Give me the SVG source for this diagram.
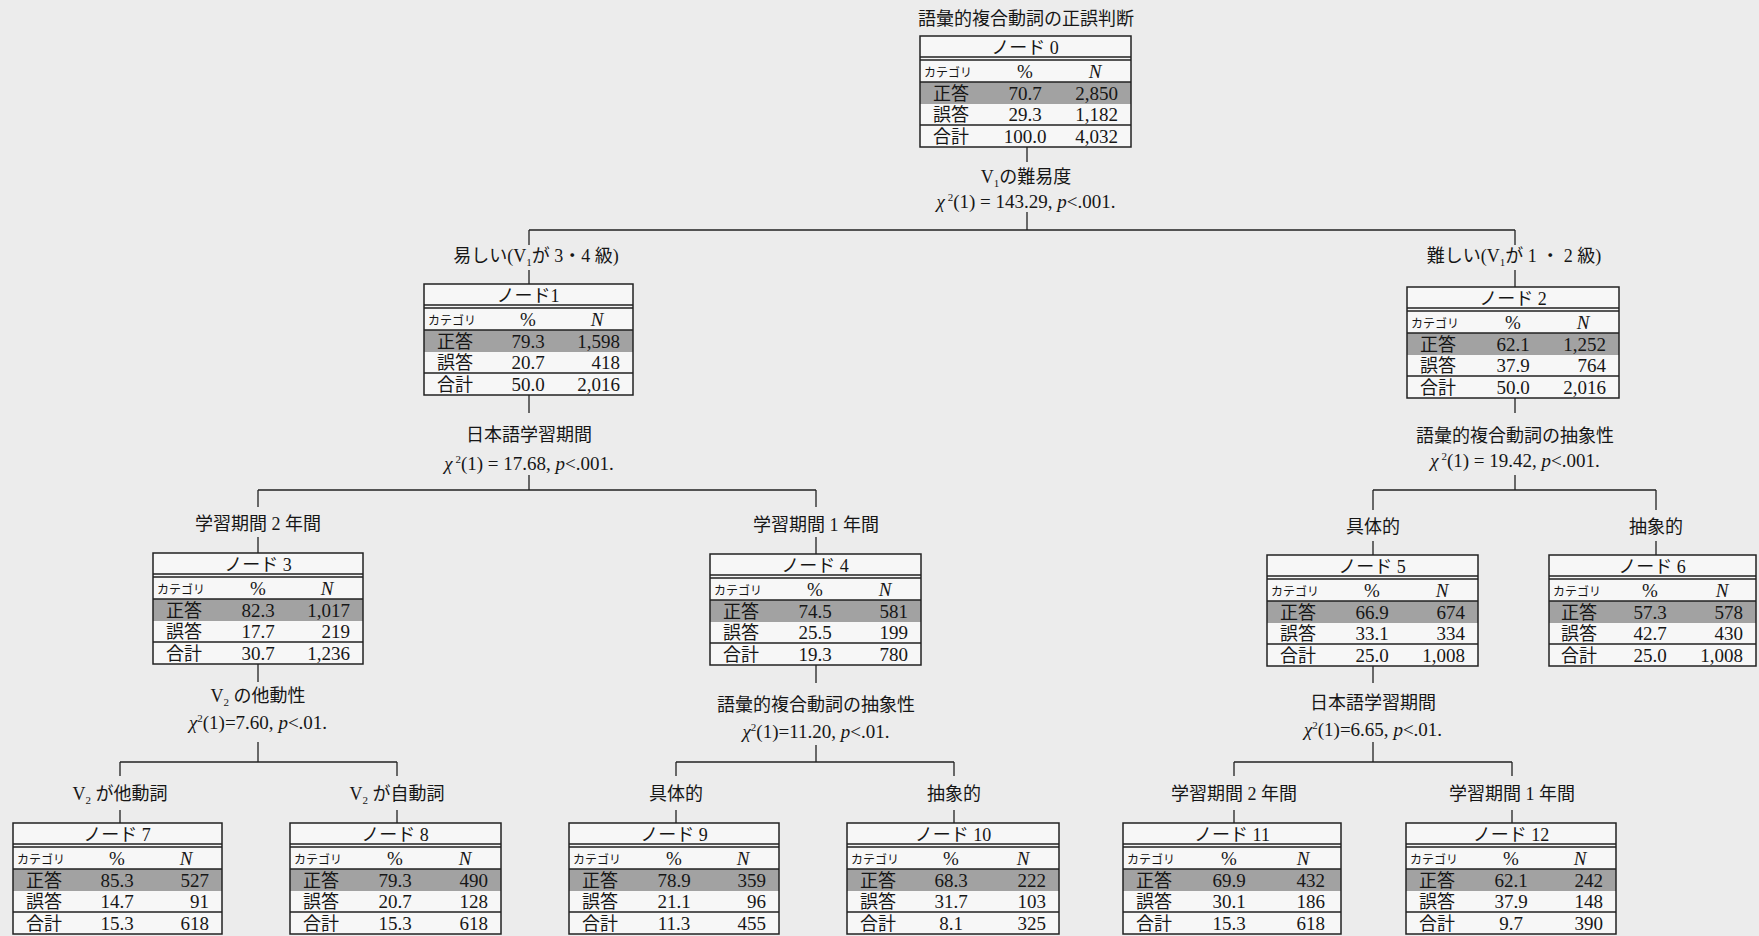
<svg xmlns="http://www.w3.org/2000/svg" width="1759" height="936" viewBox="0 0 1759 936">
<style>
.bg{fill:#ececec}
.cell{fill:#f7f7f7}
.sh{fill:#a2a2a2}
.ol{fill:none;stroke:#222;stroke-width:1.5}
.ln{fill:none;stroke:#222;stroke-width:1.3}
.t{font-family:"Liberation Serif","Noto Sans CJK JP",serif;font-size:19px;fill:#161616}
.jp{font-family:"Liberation Serif","Noto Sans CJK JP",sans-serif;font-size:18px}
.c{text-anchor:middle}
.r{text-anchor:end}
.cat{font-family:"Noto Sans CJK JP",sans-serif;font-size:12px}
.i{font-style:italic}
</style>
<rect class="bg" x="0" y="0" width="1759" height="936"/>

<g id="connectors">
<path class="ln" d="M1027 147V162M1027 212V230M529 230H1515M529 230V245M529 270V284M1515 230V245M1515 270V287"/>
<path class="ln" d="M529 395V413M529 475V490M258 490H816M258 490V507M258 537V553M816 490V507M816 537V554"/>
<path class="ln" d="M1515 398V413M1515 475V490M1373 490H1656M1373 490V510M1373 541V555M1656 490V510M1656 541V555"/>
<path class="ln" d="M258 664V682M258 742V762M120 762H397M120 762V776M120 810V823M397 762V776M397 810V823"/>
<path class="ln" d="M816 665V683M816 745V762M676 762H954M676 762V776M676 810V823M954 762V776M954 810V823"/>
<path class="ln" d="M1373 666V683M1373 742V762M1234 762H1512M1234 762V776M1234 810V823M1512 762V776M1512 810V823"/>
</g>

<g id="edge-labels" class="t c">
<text class="jp" x="1026" y="25">語彙的複合動詞の正誤判断</text>
<text class="jp" x="1026" y="183">V<tspan font-size="11" dy="4">1</tspan><tspan dy="-4">の難易度</tspan></text>
<text x="1026" y="208"><tspan class="i">χ</tspan><tspan font-size="11" dy="-7"> 2</tspan><tspan dy="7">(1) = 143.29, </tspan><tspan class="i">p</tspan>&lt;.001.</text>
<text class="jp" x="536" y="262">易しい(V<tspan font-size="11" dy="4">1</tspan><tspan dy="-4">が 3・4 級)</tspan></text>
<text class="jp" x="1514" y="262">難しい(V<tspan font-size="11" dy="4">1</tspan><tspan dy="-4">が 1 ・ 2 級)</tspan></text>
<text class="jp" x="529" y="441">日本語学習期間</text>
<text x="529" y="470"><tspan class="i">χ</tspan><tspan font-size="11" dy="-7"> 2</tspan><tspan dy="7">(1) = 17.68, </tspan><tspan class="i">p</tspan>&lt;.001.</text>
<text class="jp" x="1515" y="442">語彙的複合動詞の抽象性</text>
<text x="1515" y="467"><tspan class="i">χ</tspan><tspan font-size="11" dy="-7"> 2</tspan><tspan dy="7">(1) = 19.42, </tspan><tspan class="i">p</tspan>&lt;.001.</text>
<text class="jp" x="258" y="530">学習期間 2 年間</text>
<text class="jp" x="816" y="531">学習期間 1 年間</text>
<text class="jp" x="1373" y="533">具体的</text>
<text class="jp" x="1656" y="533">抽象的</text>
<text class="jp" x="258" y="702">V<tspan font-size="11" dy="4">2</tspan><tspan dy="-4"> の他動性</tspan></text>
<text x="258" y="729"><tspan class="i">χ</tspan><tspan font-size="11" dy="-7">2</tspan><tspan dy="7">(1)=7.60, </tspan><tspan class="i">p</tspan>&lt;.01.</text>
<text class="jp" x="816" y="711">語彙的複合動詞の抽象性</text>
<text x="816" y="738"><tspan class="i">χ</tspan><tspan font-size="11" dy="-7">2</tspan><tspan dy="7">(1)=11.20, </tspan><tspan class="i">p</tspan>&lt;.01.</text>
<text class="jp" x="1373" y="709">日本語学習期間</text>
<text x="1373" y="736"><tspan class="i">χ</tspan><tspan font-size="11" dy="-7">2</tspan><tspan dy="7">(1)=6.65, </tspan><tspan class="i">p</tspan>&lt;.01.</text>
<text class="jp" x="120" y="800">V<tspan font-size="11" dy="4">2</tspan><tspan dy="-4"> が他動詞</tspan></text>
<text class="jp" x="397" y="800">V<tspan font-size="11" dy="4">2</tspan><tspan dy="-4"> が自動詞</tspan></text>
<text class="jp" x="676" y="800">具体的</text>
<text class="jp" x="954" y="800">抽象的</text>
<text class="jp" x="1234" y="800">学習期間 2 年間</text>
<text class="jp" x="1512" y="800">学習期間 1 年間</text>
</g>

<g id="node0" transform="translate(920,36)" class="t">
<rect class="cell" width="211" height="111"/><rect class="sh" y="46" width="211" height="22"/>
<path class="ln" d="M0 21H211M0 24H211M0 46H211M0 89H211"/><rect class="ol" width="211" height="111"/>
<text class="c jp" x="105" y="18">ノード 0</text><text class="c cat" x="28" y="41">カテゴリ</text><text class="c" x="105" y="42">%</text><text class="c i" x="175" y="42">N</text>
<text class="c jp" x="31" y="64">正答</text><text class="c" x="105" y="64">70.7</text><text class="r" x="198" y="64">2,850</text>
<text class="c jp" x="31" y="85">誤答</text><text class="c" x="105" y="85">29.3</text><text class="r" x="198" y="85">1,182</text>
<text class="c jp" x="31" y="107">合計</text><text class="c" x="105" y="107">100.0</text><text class="r" x="198" y="107">4,032</text>
</g>

<g id="node1" transform="translate(424,284)" class="t">
<rect class="cell" width="209" height="111"/><rect class="sh" y="46" width="209" height="22"/>
<path class="ln" d="M0 21H209M0 24H209M0 46H209M0 89H209"/><rect class="ol" width="209" height="111"/>
<text class="c jp" x="104" y="18">ノード1</text><text class="c cat" x="28" y="41">カテゴリ</text><text class="c" x="104" y="42">%</text><text class="c i" x="173" y="42">N</text>
<text class="c jp" x="31" y="64">正答</text><text class="c" x="104" y="64">79.3</text><text class="r" x="196" y="64">1,598</text>
<text class="c jp" x="31" y="85">誤答</text><text class="c" x="104" y="85">20.7</text><text class="r" x="196" y="85">418</text>
<text class="c jp" x="31" y="107">合計</text><text class="c" x="104" y="107">50.0</text><text class="r" x="196" y="107">2,016</text>
</g>

<g id="node2" transform="translate(1407,287)" class="t">
<rect class="cell" width="212" height="111"/><rect class="sh" y="46" width="212" height="22"/>
<path class="ln" d="M0 21H212M0 24H212M0 46H212M0 89H212"/><rect class="ol" width="212" height="111"/>
<text class="c jp" x="106" y="18">ノード 2</text><text class="c cat" x="28" y="41">カテゴリ</text><text class="c" x="106" y="42">%</text><text class="c i" x="176" y="42">N</text>
<text class="c jp" x="31" y="64">正答</text><text class="c" x="106" y="64">62.1</text><text class="r" x="199" y="64">1,252</text>
<text class="c jp" x="31" y="85">誤答</text><text class="c" x="106" y="85">37.9</text><text class="r" x="199" y="85">764</text>
<text class="c jp" x="31" y="107">合計</text><text class="c" x="106" y="107">50.0</text><text class="r" x="199" y="107">2,016</text>
</g>

<g id="node3" transform="translate(153,553)" class="t">
<rect class="cell" width="210" height="111"/><rect class="sh" y="46" width="210" height="22"/>
<path class="ln" d="M0 21H210M0 24H210M0 46H210M0 89H210"/><rect class="ol" width="210" height="111"/>
<text class="c jp" x="105" y="18">ノード 3</text><text class="c cat" x="28" y="41">カテゴリ</text><text class="c" x="105" y="42">%</text><text class="c i" x="174" y="42">N</text>
<text class="c jp" x="31" y="64">正答</text><text class="c" x="105" y="64">82.3</text><text class="r" x="197" y="64">1,017</text>
<text class="c jp" x="31" y="85">誤答</text><text class="c" x="105" y="85">17.7</text><text class="r" x="197" y="85">219</text>
<text class="c jp" x="31" y="107">合計</text><text class="c" x="105" y="107">30.7</text><text class="r" x="197" y="107">1,236</text>
</g>

<g id="node4" transform="translate(710,554)" class="t">
<rect class="cell" width="211" height="111"/><rect class="sh" y="46" width="211" height="22"/>
<path class="ln" d="M0 21H211M0 24H211M0 46H211M0 89H211"/><rect class="ol" width="211" height="111"/>
<text class="c jp" x="105" y="18">ノード 4</text><text class="c cat" x="28" y="41">カテゴリ</text><text class="c" x="105" y="42">%</text><text class="c i" x="175" y="42">N</text>
<text class="c jp" x="31" y="64">正答</text><text class="c" x="105" y="64">74.5</text><text class="r" x="198" y="64">581</text>
<text class="c jp" x="31" y="85">誤答</text><text class="c" x="105" y="85">25.5</text><text class="r" x="198" y="85">199</text>
<text class="c jp" x="31" y="107">合計</text><text class="c" x="105" y="107">19.3</text><text class="r" x="198" y="107">780</text>
</g>

<g id="node5" transform="translate(1267,555)" class="t">
<rect class="cell" width="211" height="111"/><rect class="sh" y="46" width="211" height="22"/>
<path class="ln" d="M0 21H211M0 24H211M0 46H211M0 89H211"/><rect class="ol" width="211" height="111"/>
<text class="c jp" x="105" y="18">ノード 5</text><text class="c cat" x="28" y="41">カテゴリ</text><text class="c" x="105" y="42">%</text><text class="c i" x="175" y="42">N</text>
<text class="c jp" x="31" y="64">正答</text><text class="c" x="105" y="64">66.9</text><text class="r" x="198" y="64">674</text>
<text class="c jp" x="31" y="85">誤答</text><text class="c" x="105" y="85">33.1</text><text class="r" x="198" y="85">334</text>
<text class="c jp" x="31" y="107">合計</text><text class="c" x="105" y="107">25.0</text><text class="r" x="198" y="107">1,008</text>
</g>

<g id="node6" transform="translate(1549,555)" class="t">
<rect class="cell" width="207" height="111"/><rect class="sh" y="46" width="207" height="22"/>
<path class="ln" d="M0 21H207M0 24H207M0 46H207M0 89H207"/><rect class="ol" width="207" height="111"/>
<text class="c jp" x="103" y="18">ノード 6</text><text class="c cat" x="28" y="41">カテゴリ</text><text class="c" x="101" y="42">%</text><text class="c i" x="173" y="42">N</text>
<text class="c jp" x="30" y="64">正答</text><text class="c" x="101" y="64">57.3</text><text class="r" x="194" y="64">578</text>
<text class="c jp" x="30" y="85">誤答</text><text class="c" x="101" y="85">42.7</text><text class="r" x="194" y="85">430</text>
<text class="c jp" x="30" y="107">合計</text><text class="c" x="101" y="107">25.0</text><text class="r" x="194" y="107">1,008</text>
</g>

<g id="node7" transform="translate(13,823)" class="t">
<rect class="cell" width="209" height="111"/><rect class="sh" y="46" width="209" height="22"/>
<path class="ln" d="M0 21H209M0 24H209M0 46H209M0 89H209"/><rect class="ol" width="209" height="111"/>
<text class="c jp" x="104" y="18">ノード 7</text><text class="c cat" x="28" y="41">カテゴリ</text><text class="c" x="104" y="42">%</text><text class="c i" x="173" y="42">N</text>
<text class="c jp" x="31" y="64">正答</text><text class="c" x="104" y="64">85.3</text><text class="r" x="196" y="64">527</text>
<text class="c jp" x="31" y="85">誤答</text><text class="c" x="104" y="85">14.7</text><text class="r" x="196" y="85">91</text>
<text class="c jp" x="31" y="107">合計</text><text class="c" x="104" y="107">15.3</text><text class="r" x="196" y="107">618</text>
</g>

<g id="node8" transform="translate(290,823)" class="t">
<rect class="cell" width="211" height="111"/><rect class="sh" y="46" width="211" height="22"/>
<path class="ln" d="M0 21H211M0 24H211M0 46H211M0 89H211"/><rect class="ol" width="211" height="111"/>
<text class="c jp" x="105" y="18">ノード 8</text><text class="c cat" x="28" y="41">カテゴリ</text><text class="c" x="105" y="42">%</text><text class="c i" x="175" y="42">N</text>
<text class="c jp" x="31" y="64">正答</text><text class="c" x="105" y="64">79.3</text><text class="r" x="198" y="64">490</text>
<text class="c jp" x="31" y="85">誤答</text><text class="c" x="105" y="85">20.7</text><text class="r" x="198" y="85">128</text>
<text class="c jp" x="31" y="107">合計</text><text class="c" x="105" y="107">15.3</text><text class="r" x="198" y="107">618</text>
</g>

<g id="node9" transform="translate(569,823)" class="t">
<rect class="cell" width="210" height="111"/><rect class="sh" y="46" width="210" height="22"/>
<path class="ln" d="M0 21H210M0 24H210M0 46H210M0 89H210"/><rect class="ol" width="210" height="111"/>
<text class="c jp" x="105" y="18">ノード 9</text><text class="c cat" x="28" y="41">カテゴリ</text><text class="c" x="105" y="42">%</text><text class="c i" x="174" y="42">N</text>
<text class="c jp" x="31" y="64">正答</text><text class="c" x="105" y="64">78.9</text><text class="r" x="197" y="64">359</text>
<text class="c jp" x="31" y="85">誤答</text><text class="c" x="105" y="85">21.1</text><text class="r" x="197" y="85">96</text>
<text class="c jp" x="31" y="107">合計</text><text class="c" x="105" y="107">11.3</text><text class="r" x="197" y="107">455</text>
</g>

<g id="node10" transform="translate(847,823)" class="t">
<rect class="cell" width="212" height="111"/><rect class="sh" y="46" width="212" height="22"/>
<path class="ln" d="M0 21H212M0 24H212M0 46H212M0 89H212"/><rect class="ol" width="212" height="111"/>
<text class="c jp" x="106" y="18">ノード 10</text><text class="c cat" x="28" y="41">カテゴリ</text><text class="c" x="104" y="42">%</text><text class="c i" x="176" y="42">N</text>
<text class="c jp" x="31" y="64">正答</text><text class="c" x="104" y="64">68.3</text><text class="r" x="199" y="64">222</text>
<text class="c jp" x="31" y="85">誤答</text><text class="c" x="104" y="85">31.7</text><text class="r" x="199" y="85">103</text>
<text class="c jp" x="31" y="107">合計</text><text class="c" x="104" y="107">8.1</text><text class="r" x="199" y="107">325</text>
</g>

<g id="node11" transform="translate(1123,823)" class="t">
<rect class="cell" width="218" height="111"/><rect class="sh" y="46" width="218" height="22"/>
<path class="ln" d="M0 21H218M0 24H218M0 46H218M0 89H218"/><rect class="ol" width="218" height="111"/>
<text class="c jp" x="109" y="18">ノード 11</text><text class="c cat" x="28" y="41">カテゴリ</text><text class="c" x="106" y="42">%</text><text class="c i" x="180" y="42">N</text>
<text class="c jp" x="31" y="64">正答</text><text class="c" x="106" y="64">69.9</text><text class="r" x="202" y="64">432</text>
<text class="c jp" x="31" y="85">誤答</text><text class="c" x="106" y="85">30.1</text><text class="r" x="202" y="85">186</text>
<text class="c jp" x="31" y="107">合計</text><text class="c" x="106" y="107">15.3</text><text class="r" x="202" y="107">618</text>
</g>

<g id="node12" transform="translate(1406,823)" class="t">
<rect class="cell" width="210" height="111"/><rect class="sh" y="46" width="210" height="22"/>
<path class="ln" d="M0 21H210M0 24H210M0 46H210M0 89H210"/><rect class="ol" width="210" height="111"/>
<text class="c jp" x="105" y="18">ノード 12</text><text class="c cat" x="28" y="41">カテゴリ</text><text class="c" x="105" y="42">%</text><text class="c i" x="174" y="42">N</text>
<text class="c jp" x="31" y="64">正答</text><text class="c" x="105" y="64">62.1</text><text class="r" x="197" y="64">242</text>
<text class="c jp" x="31" y="85">誤答</text><text class="c" x="105" y="85">37.9</text><text class="r" x="197" y="85">148</text>
<text class="c jp" x="31" y="107">合計</text><text class="c" x="105" y="107">9.7</text><text class="r" x="197" y="107">390</text>
</g>
</svg>
